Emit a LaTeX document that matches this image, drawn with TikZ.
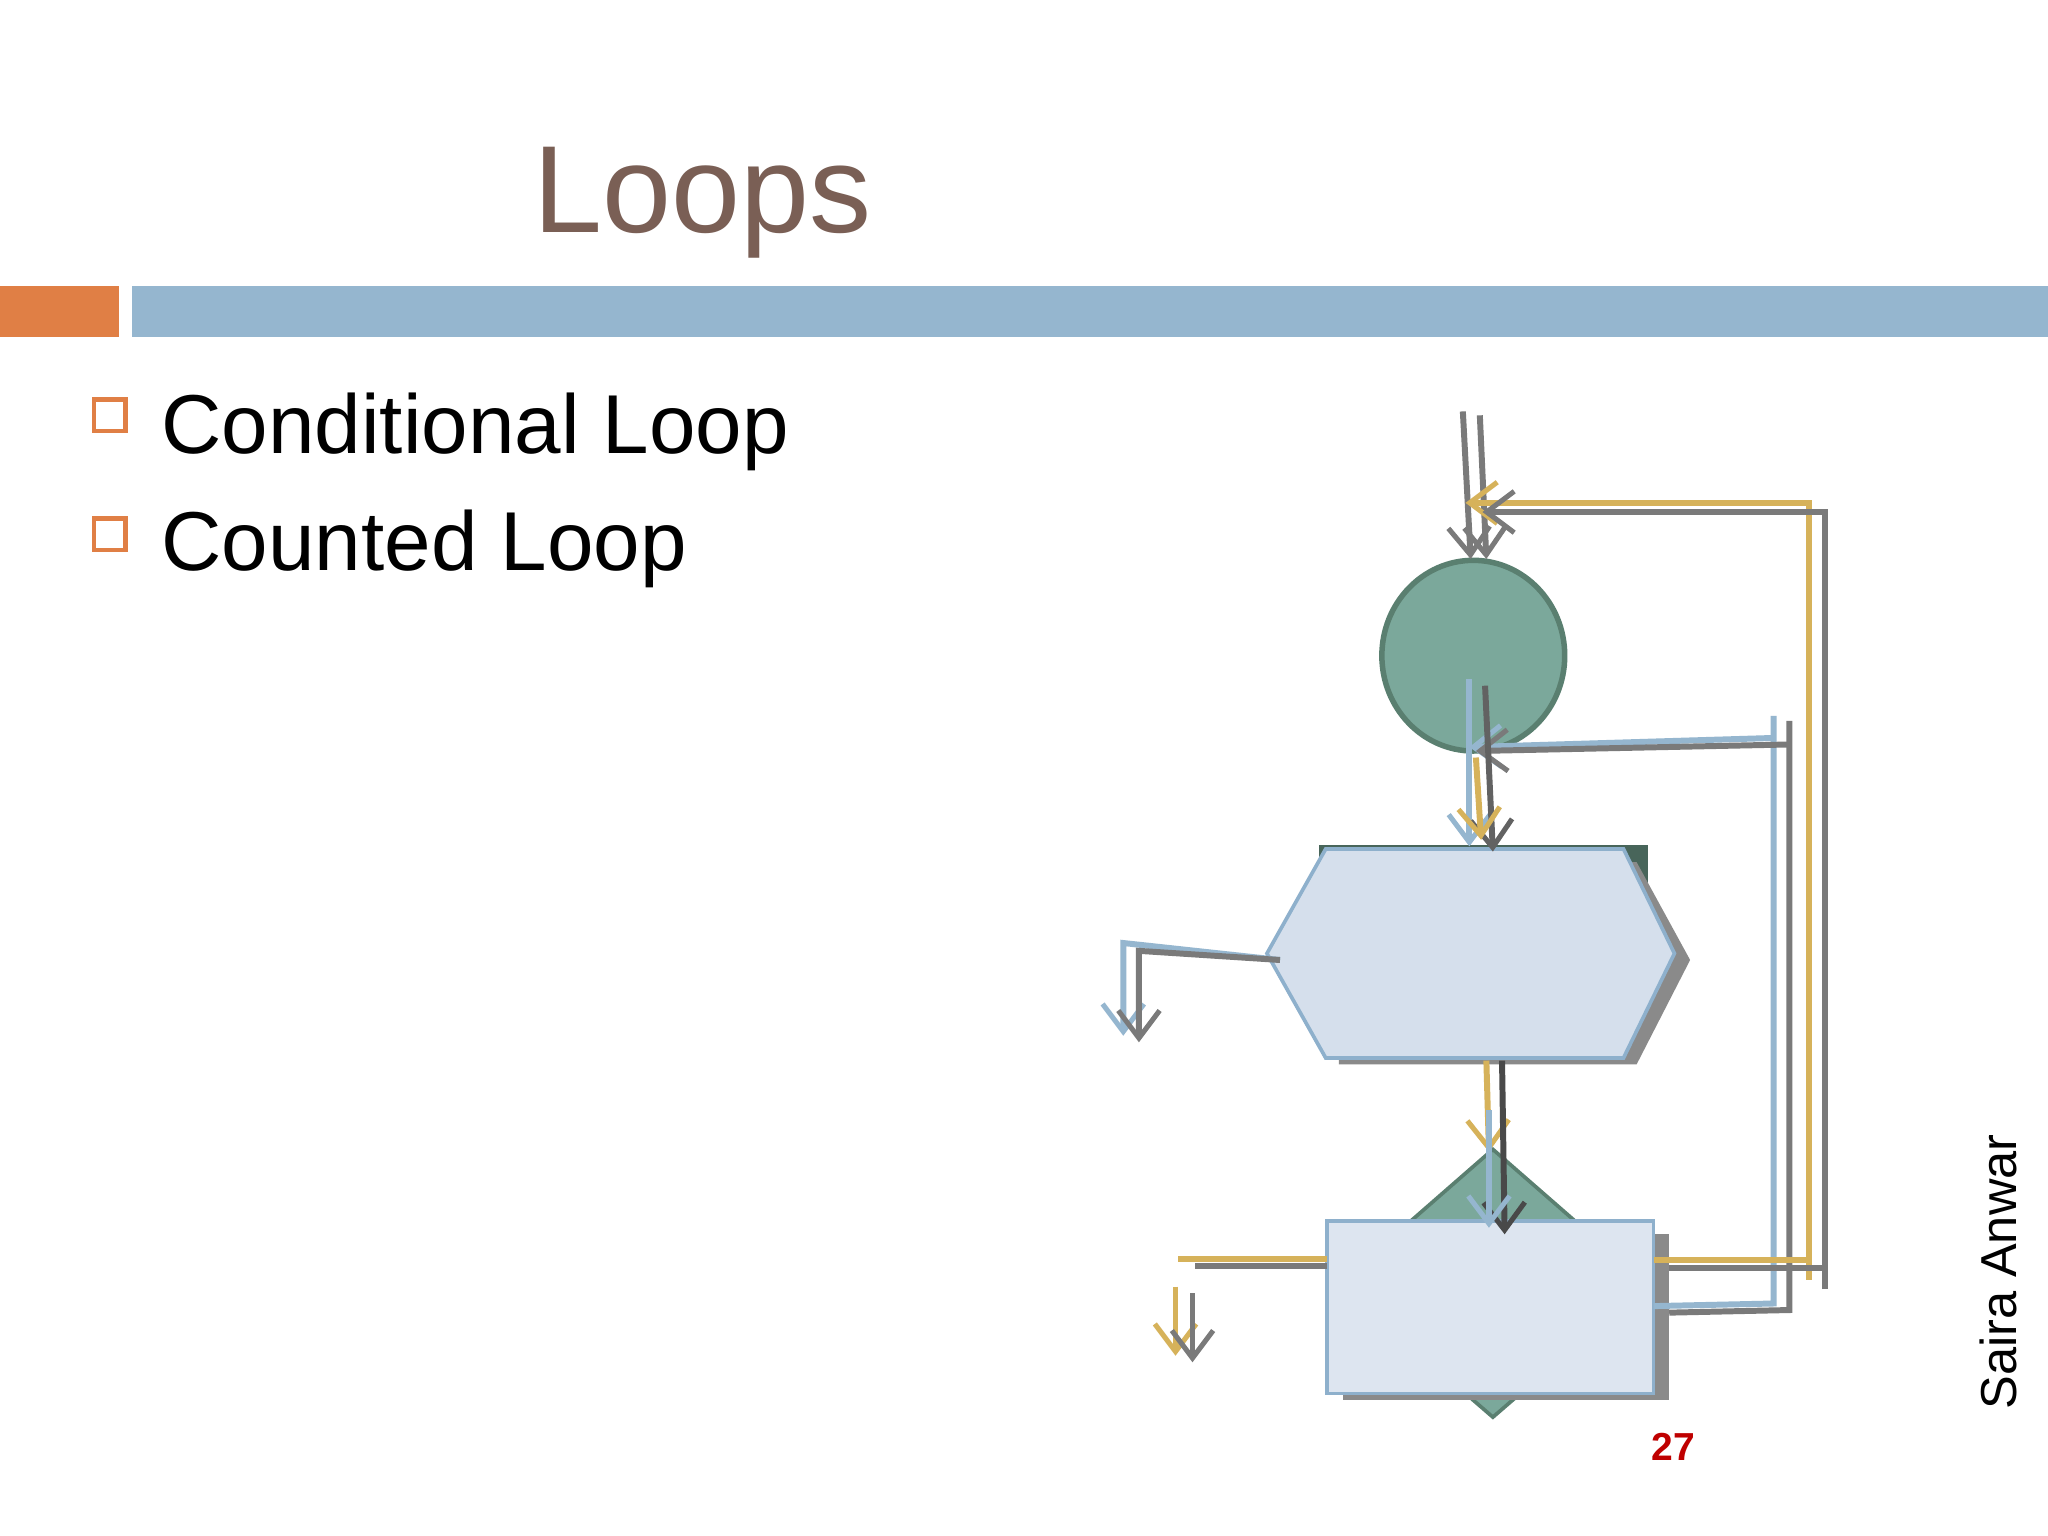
\documentclass[tikz,border=0pt]{standalone}
\usepackage{fontspec}
\setmainfont{Liberation Sans}
\usetikzlibrary{arrows.meta,shapes.geometric}
\definecolor{ttl}{HTML}{7A5F55}
\definecolor{org}{HTML}{E07F45}
\definecolor{bbar}{HTML}{95B6CF}
\definecolor{grn}{HTML}{7BA89B}
\definecolor{grnd}{HTML}{5A7F70}
\definecolor{lbl}{HTML}{D5DFEC}
\definecolor{lblb}{HTML}{8EB0CC}
\definecolor{yel}{HTML}{D6B25A}
\definecolor{gry}{HTML}{7A7A7A}
\definecolor{shd}{HTML}{8A8A8A}
\tikzset{
 ln/.style={line width=1.3pt,-{Straight Barb[length=6pt,width=9pt,line width=1.1pt]}},
 pl/.style={line width=1.3pt},
}
\begin{document}
\begin{tikzpicture}[x=0.01cm,y=-0.01cm]
\useasboundingbox (0,0) rectangle (1568,1176);
\fill[white] (0,0) rectangle (1568,1176);
\node[text=ttl,font=\fontsize{27}{30}\selectfont,anchor=base,inner sep=0] (title) at (538,178) {Loops};
\fill[org] (0,219) rectangle (91,258);
\fill[bbar] (101,219) rectangle (1568,258);
\draw[org,line width=1pt] (72,306) rectangle (96,330);
\draw[org,line width=1pt] (72,397) rectangle (96,421);
\node[font=\fontsize{18.2}{20}\selectfont,anchor=base west,inner sep=0] (b1) at (123,347) {Conditional Loop};
\node[font=\fontsize{18.2}{20}\selectfont,anchor=base west,inner sep=0] (b2) at (123,437) {Counted Loop};
% shapes
\fill[grnd!80!black] (1010,647) rectangle (1262,795);
\fill[shd] (1025,660) -- (1253,660) -- (1294,735) -- (1253,815) -- (1025,815) -- cycle;
\draw[lblb,fill=lbl,line width=0.8pt] (1015,650) -- (1243,650) -- (1282,730) -- (1243,810) -- (1015,810) -- (970,730) -- cycle;
\coordinate (hex) at (1128,730);
\draw[grnd,fill=grn,line width=1.2pt] (1128,502) ellipse (70 and 73);
\coordinate (circ) at (1128,502);
\draw[grnd,fill=grn,line width=0.8pt] (1143,880) -- (1261,983) -- (1143,1085) -- (1025,983) -- cycle;
\fill[shd] (1028,945) rectangle (1278,1072);
\draw[lblb,fill=lbl!80!white,line width=0.8pt] (1016,935) rectangle (1266,1067);
% connectors
\coordinate (a1) at (1120,315); \coordinate (a2) at (1133,318);
\draw[ln,gry] (a1) -- (1126,428);
\draw[ln,gry] (a2) -- (1138,428);
\draw[ln,yel] (1385,980) -- (1385,385) -- (1122,385);
\draw[ln,gry] (1397,987) -- (1397,392) -- (1135,392);
\draw[pl,bbar] (1266,1000) -- (1358,998) -- (1358,548);
\draw[pl,gry] (1278,1005) -- (1370,1003) -- (1370,552);
\draw[ln,bbar] (1358,565) -- (1125,572);
\draw[ln,gry] (1370,570) -- (1130,575);
\draw[ln,bbar] (1125,520) -- (1125,648);
\draw[ln,gry!80!black] (1137,525) -- (1143,652);
\draw[ln,yel] (1130,580) -- (1134,643);
\draw[ln,bbar] (980,735) -- (860,722) -- (860,793);
\draw[ln,gry] (980,735) -- (872,728) -- (872,798);
\draw[ln,yel] (1138,812) -- (1140,882);
\draw[ln,gry!60!black] (1150,812) -- (1152,945);
\draw[ln,bbar] (1140,850) -- (1140,940);
\draw[pl,yel] (1016,964) -- (902,964);
\draw[pl,gry] (1016,969) -- (915,969);
\draw[ln,yel] (900,985) -- (900,1038);
\draw[ln,gry] (913,990) -- (913,1043);
\draw[pl,yel] (1266,965) -- (1385,965);
\draw[pl,gry] (1278,971) -- (1397,971);
\node[rotate=90,font=\fontsize{11}{12}\selectfont,anchor=west,inner sep=0] (auth) at (1530,1080) {Saira Anwar};
\node[text=red!75!black,font=\bfseries\fontsize{8.5}{10}\selectfont] (pg) at (1281,1108) {27};
\end{tikzpicture}
\end{document}
